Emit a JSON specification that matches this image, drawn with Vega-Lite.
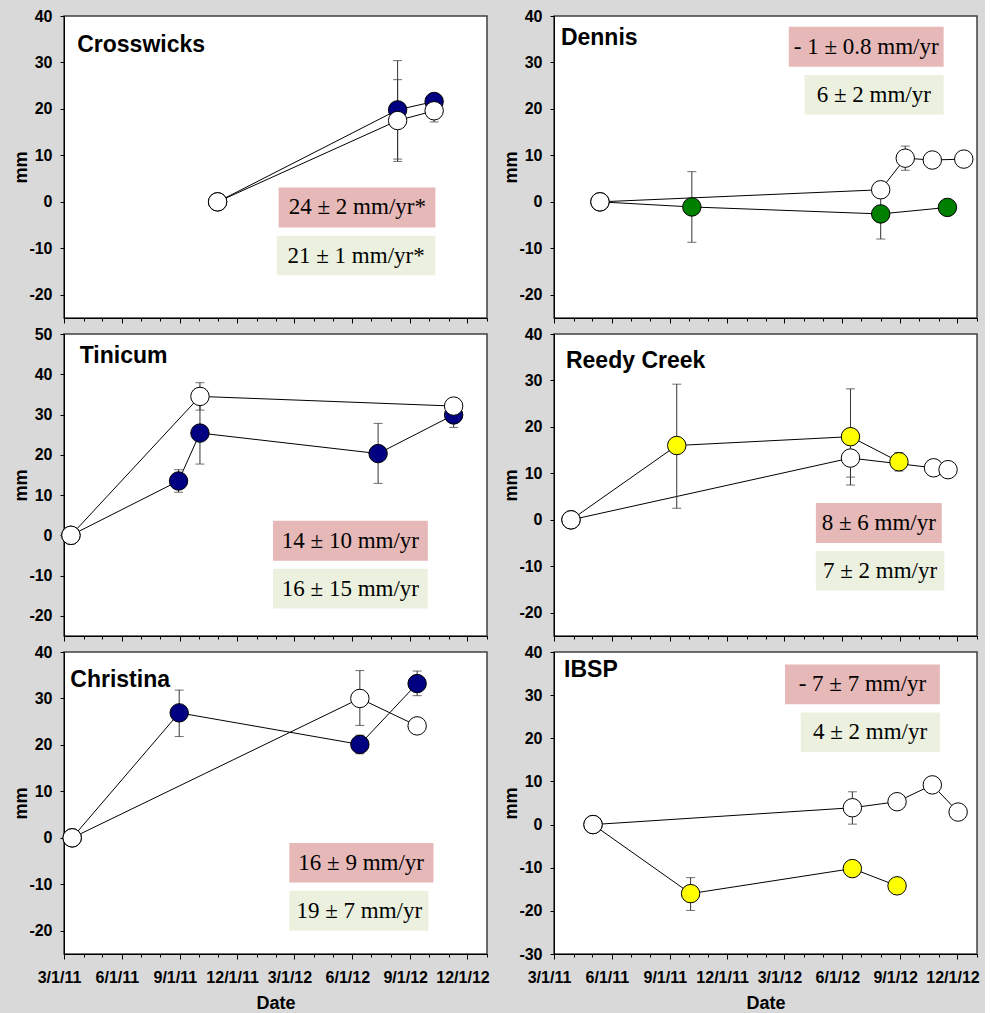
{
"$schema": "https://vega.github.io/schema/vega-lite/v6.json",
"background": "#d9d9d9",
"padding": {"left": 12, "top": 7, "right": 5, "bottom": 5},
"datasets": {
"obs": [
{"site":"Crosswicks","series":"open","date":"2011-10-31","mm":0},
{"site":"Crosswicks","series":"open","date":"2012-08-12","mm":17.5,"lo":8.7,"hi":26.3},
{"site":"Crosswicks","series":"open","date":"2012-10-09","mm":19.6,"lo":17.2,"hi":22.0},
{"site":"Crosswicks","series":"filled","date":"2011-10-31","mm":0},
{"site":"Crosswicks","series":"filled","date":"2012-08-12","mm":19.8,"lo":9.2,"hi":30.4},
{"site":"Crosswicks","series":"filled","date":"2012-10-09","mm":21.6},
{"site":"Dennis","series":"open","date":"2011-05-13","mm":0},
{"site":"Dennis","series":"open","date":"2012-08-01","mm":2.6},
{"site":"Dennis","series":"open","date":"2012-09-09","mm":9.4,"lo":6.8,"hi":12.0},
{"site":"Dennis","series":"open","date":"2012-10-22","mm":9.0},
{"site":"Dennis","series":"open","date":"2012-12-11","mm":9.2},
{"site":"Dennis","series":"filled","date":"2011-05-13","mm":0},
{"site":"Dennis","series":"filled","date":"2011-10-06","mm":-1.1,"lo":-8.7,"hi":6.5},
{"site":"Dennis","series":"filled","date":"2012-08-01","mm":-2.6,"lo":-8.0,"hi":2.8},
{"site":"Dennis","series":"filled","date":"2012-11-15","mm":-1.2},
{"site":"Tinicum","series":"open","date":"2011-03-12","mm":0},
{"site":"Tinicum","series":"open","date":"2011-10-03","mm":34.5,"lo":31.1,"hi":37.9},
{"site":"Tinicum","series":"open","date":"2012-11-09","mm":32.1},
{"site":"Tinicum","series":"filled","date":"2011-03-12","mm":0},
{"site":"Tinicum","series":"filled","date":"2011-08-30","mm":13.5,"lo":10.7,"hi":16.3},
{"site":"Tinicum","series":"filled","date":"2011-10-03","mm":25.4,"lo":17.7,"hi":33.1},
{"site":"Tinicum","series":"filled","date":"2012-07-12","mm":20.3,"lo":12.9,"hi":27.8},
{"site":"Tinicum","series":"filled","date":"2012-11-09","mm":29.9,"lo":26.8,"hi":33.0},
{"site":"Reedy Creek","series":"open","date":"2011-03-28","mm":0},
{"site":"Reedy Creek","series":"open","date":"2012-06-14","mm":13.3,"lo":9.2,"hi":17.3},
{"site":"Reedy Creek","series":"open","date":"2012-10-24","mm":11.2},
{"site":"Reedy Creek","series":"open","date":"2012-11-16","mm":10.8},
{"site":"Reedy Creek","series":"filled","date":"2011-03-28","mm":0},
{"site":"Reedy Creek","series":"filled","date":"2011-09-12","mm":16.0,"lo":2.5,"hi":29.2},
{"site":"Reedy Creek","series":"filled","date":"2012-06-14","mm":17.9,"lo":7.5,"hi":28.2},
{"site":"Reedy Creek","series":"filled","date":"2012-08-30","mm":12.5,"lo":10.5,"hi":14.5},
{"site":"Christina","series":"open","date":"2011-03-14","mm":0},
{"site":"Christina","series":"open","date":"2012-06-13","mm":30.0,"lo":24.2,"hi":36.0},
{"site":"Christina","series":"open","date":"2012-09-12","mm":24.1},
{"site":"Christina","series":"filled","date":"2011-03-14","mm":0},
{"site":"Christina","series":"filled","date":"2011-08-31","mm":26.9,"lo":21.8,"hi":31.8},
{"site":"Christina","series":"filled","date":"2012-06-13","mm":20.1,"lo":18.1,"hi":22.1},
{"site":"Christina","series":"filled","date":"2012-09-12","mm":33.2,"lo":30.6,"hi":35.9},
{"site":"IBSP","series":"open","date":"2011-05-02","mm":0},
{"site":"IBSP","series":"open","date":"2012-06-17","mm":3.9,"lo":0.1,"hi":7.6},
{"site":"IBSP","series":"open","date":"2012-08-27","mm":5.3},
{"site":"IBSP","series":"open","date":"2012-10-22","mm":9.2},
{"site":"IBSP","series":"open","date":"2012-12-02","mm":2.9},
{"site":"IBSP","series":"filled","date":"2011-05-02","mm":0},
{"site":"IBSP","series":"filled","date":"2011-10-04","mm":-16.0,"lo":-19.9,"hi":-12.3},
{"site":"IBSP","series":"filled","date":"2012-06-17","mm":-10.2},
{"site":"IBSP","series":"filled","date":"2012-08-27","mm":-14.2}
],
"rates": [
{"site":"Crosswicks","kind":"pink","label":"24 ± 2 mm/yr*"},
{"site":"Crosswicks","kind":"green","label":"21 ± 1 mm/yr*"},
{"site":"Dennis","kind":"pink","label":"- 1 ± 0.8 mm/yr"},
{"site":"Dennis","kind":"green","label":"6 ± 2 mm/yr"},
{"site":"Tinicum","kind":"pink","label":"14 ± 10 mm/yr"},
{"site":"Tinicum","kind":"green","label":"16 ± 15 mm/yr"},
{"site":"Reedy Creek","kind":"pink","label":"8 ± 6 mm/yr"},
{"site":"Reedy Creek","kind":"green","label":"7 ± 2 mm/yr"},
{"site":"Christina","kind":"pink","label":"16 ± 9 mm/yr"},
{"site":"Christina","kind":"green","label":"19 ± 7 mm/yr"},
{"site":"IBSP","kind":"pink","label":"- 7 ± 7 mm/yr"},
{"site":"IBSP","kind":"green","label":"4 ± 2 mm/yr"}
]
},
"columns": 2,
"spacing": {"row": 16, "column": 67},
"bounds": "flush",
"resolve": {"scale": {"x": "independent", "y": "independent"}, "axis": {"x": "independent", "y": "independent"}},
"concat": [
{
"width": 423, "height": 302,
"layer": [
{"data": {"name": "rates"}, "transform": [{"filter": "datum.site == 'Crosswicks'"}],
"layer": [
{"transform": [{"filter": "datum.kind == 'pink'"}], "mark": {"type": "rect", "fill": "#e6b8b7"},
"encoding": {"x": {"datum": {"year":2012,"month":2,"date":5,"utc":true}, "type": "temporal"}, "x2": {"datum": {"year":2012,"month":10,"date":11,"utc":true}}, "y": {"datum": 3.1, "type": "quantitative"}, "y2": {"datum": -5.5}}},
{"transform": [{"filter": "datum.kind == 'pink'"}], "mark": {"type": "text", "font": "Liberation Serif", "fontSize": 23, "align": "center", "baseline": "middle", "color": "black"},
"encoding": {"x": {"datum": {"year":2012,"month":6,"date":9,"utc":true}, "type": "temporal"}, "y": {"datum": -1.2, "type": "quantitative"}, "text": {"field": "label"}}},
{"transform": [{"filter": "datum.kind == 'green'"}], "mark": {"type": "rect", "fill": "#ebf1de"},
"encoding": {"x": {"datum": {"year":2012,"month":2,"date":2,"utc":true}, "type": "temporal"}, "x2": {"datum": {"year":2012,"month":10,"date":11,"utc":true}}, "y": {"datum": -7.3, "type": "quantitative"}, "y2": {"datum": -15.8}}},
{"transform": [{"filter": "datum.kind == 'green'"}], "mark": {"type": "text", "font": "Liberation Serif", "fontSize": 23, "align": "center", "baseline": "middle", "color": "black"},
"encoding": {"x": {"datum": {"year":2012,"month":6,"date":7,"utc":true}, "type": "temporal"}, "y": {"datum": -11.55, "type": "quantitative"}, "text": {"field": "label"}}},
{"transform": [{"filter": "datum.kind == 'pink'"}], "mark": {"type": "text", "font": "Liberation Sans", "fontWeight": "bold", "fontSize": 23, "align": "left", "baseline": "alphabetic", "color": "black"},
"encoding": {"x": {"datum": {"year":2011,"month":3,"date":22,"utc":true}, "type": "temporal"}, "y": {"datum": 32.2, "type": "quantitative"}, "text": {"field": "site"}}}
]},
{"data": {"name": "obs"}, "transform": [{"filter": "datum.site == 'Crosswicks'"}],
"layer": [
{"mark": {"type": "line", "color": "black", "strokeWidth": 1},
"encoding": {
"x": {"field": "date", "type": "temporal", "scale": {"type": "utc", "nice": false, "domain": [{"year":2011,"month":3,"date":1,"utc":true},{"year":2013,"month":1,"date":1,"utc":true}]},
"axis": {"title": null, "labels": false, "tickCount": 60, "tickSize": {"condition": {"test": "utcmonth(datum.value) % 3 == 2", "value": 5}, "value": 3},
"values": [{"year":2011,"month":3,"date":1,"utc":true},{"year":2011,"month":4,"date":1,"utc":true},{"year":2011,"month":5,"date":1,"utc":true},{"year":2011,"month":6,"date":1,"utc":true},{"year":2011,"month":7,"date":1,"utc":true},{"year":2011,"month":8,"date":1,"utc":true},{"year":2011,"month":9,"date":1,"utc":true},{"year":2011,"month":10,"date":1,"utc":true},{"year":2011,"month":11,"date":1,"utc":true},{"year":2011,"month":12,"date":1,"utc":true},{"year":2012,"month":1,"date":1,"utc":true},{"year":2012,"month":2,"date":1,"utc":true},{"year":2012,"month":3,"date":1,"utc":true},{"year":2012,"month":4,"date":1,"utc":true},{"year":2012,"month":5,"date":1,"utc":true},{"year":2012,"month":6,"date":1,"utc":true},{"year":2012,"month":7,"date":1,"utc":true},{"year":2012,"month":8,"date":1,"utc":true},{"year":2012,"month":9,"date":1,"utc":true},{"year":2012,"month":10,"date":1,"utc":true},{"year":2012,"month":11,"date":1,"utc":true},{"year":2012,"month":12,"date":1,"utc":true},{"year":2013,"month":1,"date":1,"utc":true}]}},
"y": {"field": "mm", "type": "quantitative", "scale": {"domain": [-25, 40], "nice": false, "zero": false}, "axis": {"title": "mm", "tickCount": 30, "values": [-20,-10,0,10,20,30,40], "labelExpr": "'' + datum.value"}},
"detail": {"field": "series"}}},
{"transform": [{"filter": "isValid(datum.lo)"}], "mark": {"type": "errorbar", "ticks": {"size": 9}, "color": "#333"},
"encoding": {"x": {"field": "date", "type": "temporal"}, "y": {"field": "lo", "type": "quantitative", "title": "mm"}, "y2": {"field": "hi"}}},
{"transform": [{"filter": "datum.series == 'filled'"}], "mark": {"type": "circle", "size": 340, "fill": "#000080", "stroke": "black", "strokeWidth": 1, "opacity": 1},
"encoding": {"x": {"field": "date", "type": "temporal"}, "y": {"field": "mm", "type": "quantitative"}}},
{"transform": [{"filter": "datum.series == 'open'"}], "mark": {"type": "circle", "size": 340, "fill": "white", "stroke": "black", "strokeWidth": 1, "opacity": 1},
"encoding": {"x": {"field": "date", "type": "temporal"}, "y": {"field": "mm", "type": "quantitative"}}}
]}
]
},
{
"width": 423, "height": 302,
"layer": [
{"data": {"name": "rates"}, "transform": [{"filter": "datum.site == 'Dennis'"}],
"layer": [
{"transform": [{"filter": "datum.kind == 'pink'"}], "mark": {"type": "rect", "fill": "#e6b8b7"},
"encoding": {"x": {"datum": {"year":2012,"month":3,"date":8,"utc":true}, "type": "temporal"}, "x2": {"datum": {"year":2012,"month":11,"date":9,"utc":true}}, "y": {"datum": 37.7, "type": "quantitative"}, "y2": {"datum": 29.1}}},
{"transform": [{"filter": "datum.kind == 'pink'"}], "mark": {"type": "text", "font": "Liberation Serif", "fontSize": 23, "align": "center", "baseline": "middle", "color": "black"},
"encoding": {"x": {"datum": {"year":2012,"month":7,"date":9,"utc":true}, "type": "temporal"}, "y": {"datum": 33.4, "type": "quantitative"}, "text": {"field": "label"}}},
{"transform": [{"filter": "datum.kind == 'green'"}], "mark": {"type": "rect", "fill": "#ebf1de"},
"encoding": {"x": {"datum": {"year":2012,"month":4,"date":2,"utc":true}, "type": "temporal"}, "x2": {"datum": {"year":2012,"month":11,"date":9,"utc":true}}, "y": {"datum": 27.3, "type": "quantitative"}, "y2": {"datum": 18.8}}},
{"transform": [{"filter": "datum.kind == 'green'"}], "mark": {"type": "text", "font": "Liberation Serif", "fontSize": 23, "align": "center", "baseline": "middle", "color": "black"},
"encoding": {"x": {"datum": {"year":2012,"month":7,"date":21,"utc":true}, "type": "temporal"}, "y": {"datum": 23.05, "type": "quantitative"}, "text": {"field": "label"}}},
{"transform": [{"filter": "datum.kind == 'pink'"}], "mark": {"type": "text", "font": "Liberation Sans", "fontWeight": "bold", "fontSize": 23, "align": "left", "baseline": "alphabetic", "color": "black"},
"encoding": {"x": {"datum": {"year":2011,"month":3,"date":12,"utc":true}, "type": "temporal"}, "y": {"datum": 33.8, "type": "quantitative"}, "text": {"field": "site"}}}
]},
{"data": {"name": "obs"}, "transform": [{"filter": "datum.site == 'Dennis'"}],
"layer": [
{"mark": {"type": "line", "color": "black", "strokeWidth": 1},
"encoding": {
"x": {"field": "date", "type": "temporal", "scale": {"type": "utc", "nice": false, "domain": [{"year":2011,"month":3,"date":1,"utc":true},{"year":2013,"month":1,"date":1,"utc":true}]},
"axis": {"title": null, "labels": false, "tickCount": 60, "tickSize": {"condition": {"test": "utcmonth(datum.value) % 3 == 2", "value": 5}, "value": 3},
"values": [{"year":2011,"month":3,"date":1,"utc":true},{"year":2011,"month":4,"date":1,"utc":true},{"year":2011,"month":5,"date":1,"utc":true},{"year":2011,"month":6,"date":1,"utc":true},{"year":2011,"month":7,"date":1,"utc":true},{"year":2011,"month":8,"date":1,"utc":true},{"year":2011,"month":9,"date":1,"utc":true},{"year":2011,"month":10,"date":1,"utc":true},{"year":2011,"month":11,"date":1,"utc":true},{"year":2011,"month":12,"date":1,"utc":true},{"year":2012,"month":1,"date":1,"utc":true},{"year":2012,"month":2,"date":1,"utc":true},{"year":2012,"month":3,"date":1,"utc":true},{"year":2012,"month":4,"date":1,"utc":true},{"year":2012,"month":5,"date":1,"utc":true},{"year":2012,"month":6,"date":1,"utc":true},{"year":2012,"month":7,"date":1,"utc":true},{"year":2012,"month":8,"date":1,"utc":true},{"year":2012,"month":9,"date":1,"utc":true},{"year":2012,"month":10,"date":1,"utc":true},{"year":2012,"month":11,"date":1,"utc":true},{"year":2012,"month":12,"date":1,"utc":true},{"year":2013,"month":1,"date":1,"utc":true}]}},
"y": {"field": "mm", "type": "quantitative", "scale": {"domain": [-25, 40], "nice": false, "zero": false}, "axis": {"title": "mm", "tickCount": 30, "values": [-20,-10,0,10,20,30,40], "labelExpr": "'' + datum.value"}},
"detail": {"field": "series"}}},
{"transform": [{"filter": "isValid(datum.lo)"}], "mark": {"type": "errorbar", "ticks": {"size": 9}, "color": "#333"},
"encoding": {"x": {"field": "date", "type": "temporal"}, "y": {"field": "lo", "type": "quantitative", "title": "mm"}, "y2": {"field": "hi"}}},
{"transform": [{"filter": "datum.series == 'filled'"}], "mark": {"type": "circle", "size": 340, "fill": "#008000", "stroke": "black", "strokeWidth": 1, "opacity": 1},
"encoding": {"x": {"field": "date", "type": "temporal"}, "y": {"field": "mm", "type": "quantitative"}}},
{"transform": [{"filter": "datum.series == 'open'"}], "mark": {"type": "circle", "size": 340, "fill": "white", "stroke": "black", "strokeWidth": 1, "opacity": 1},
"encoding": {"x": {"field": "date", "type": "temporal"}, "y": {"field": "mm", "type": "quantitative"}}}
]}
]
},
{
"width": 423, "height": 302,
"layer": [
{"data": {"name": "rates"}, "transform": [{"filter": "datum.site == 'Tinicum'"}],
"layer": [
{"transform": [{"filter": "datum.kind == 'pink'"}], "mark": {"type": "rect", "fill": "#e6b8b7"},
"encoding": {"x": {"datum": {"year":2012,"month":1,"date":27,"utc":true}, "type": "temporal"}, "x2": {"datum": {"year":2012,"month":9,"date":29,"utc":true}}, "y": {"datum": 3.6, "type": "quantitative"}, "y2": {"datum": -6.3}}},
{"transform": [{"filter": "datum.kind == 'pink'"}], "mark": {"type": "text", "font": "Liberation Serif", "fontSize": 23, "align": "center", "baseline": "middle", "color": "black"},
"encoding": {"x": {"datum": {"year":2012,"month":5,"date":29,"utc":true}, "type": "temporal"}, "y": {"datum": -1.35, "type": "quantitative"}, "text": {"field": "label"}}},
{"transform": [{"filter": "datum.kind == 'green'"}], "mark": {"type": "rect", "fill": "#ebf1de"},
"encoding": {"x": {"datum": {"year":2012,"month":1,"date":27,"utc":true}, "type": "temporal"}, "x2": {"datum": {"year":2012,"month":9,"date":29,"utc":true}}, "y": {"datum": -8.3, "type": "quantitative"}, "y2": {"datum": -18.2}}},
{"transform": [{"filter": "datum.kind == 'green'"}], "mark": {"type": "text", "font": "Liberation Serif", "fontSize": 23, "align": "center", "baseline": "middle", "color": "black"},
"encoding": {"x": {"datum": {"year":2012,"month":5,"date":29,"utc":true}, "type": "temporal"}, "y": {"datum": -13.25, "type": "quantitative"}, "text": {"field": "label"}}},
{"transform": [{"filter": "datum.kind == 'pink'"}], "mark": {"type": "text", "font": "Liberation Sans", "fontWeight": "bold", "fontSize": 23, "align": "left", "baseline": "alphabetic", "color": "black"},
"encoding": {"x": {"datum": {"year":2011,"month":3,"date":26,"utc":true}, "type": "temporal"}, "y": {"datum": 42.7, "type": "quantitative"}, "text": {"field": "site"}}}
]},
{"data": {"name": "obs"}, "transform": [{"filter": "datum.site == 'Tinicum'"}],
"layer": [
{"mark": {"type": "line", "color": "black", "strokeWidth": 1},
"encoding": {
"x": {"field": "date", "type": "temporal", "scale": {"type": "utc", "nice": false, "domain": [{"year":2011,"month":3,"date":1,"utc":true},{"year":2013,"month":1,"date":1,"utc":true}]},
"axis": {"title": null, "labels": false, "tickCount": 60, "tickSize": {"condition": {"test": "utcmonth(datum.value) % 3 == 2", "value": 5}, "value": 3},
"values": [{"year":2011,"month":3,"date":1,"utc":true},{"year":2011,"month":4,"date":1,"utc":true},{"year":2011,"month":5,"date":1,"utc":true},{"year":2011,"month":6,"date":1,"utc":true},{"year":2011,"month":7,"date":1,"utc":true},{"year":2011,"month":8,"date":1,"utc":true},{"year":2011,"month":9,"date":1,"utc":true},{"year":2011,"month":10,"date":1,"utc":true},{"year":2011,"month":11,"date":1,"utc":true},{"year":2011,"month":12,"date":1,"utc":true},{"year":2012,"month":1,"date":1,"utc":true},{"year":2012,"month":2,"date":1,"utc":true},{"year":2012,"month":3,"date":1,"utc":true},{"year":2012,"month":4,"date":1,"utc":true},{"year":2012,"month":5,"date":1,"utc":true},{"year":2012,"month":6,"date":1,"utc":true},{"year":2012,"month":7,"date":1,"utc":true},{"year":2012,"month":8,"date":1,"utc":true},{"year":2012,"month":9,"date":1,"utc":true},{"year":2012,"month":10,"date":1,"utc":true},{"year":2012,"month":11,"date":1,"utc":true},{"year":2012,"month":12,"date":1,"utc":true},{"year":2013,"month":1,"date":1,"utc":true}]}},
"y": {"field": "mm", "type": "quantitative", "scale": {"domain": [-25, 50], "nice": false, "zero": false}, "axis": {"title": "mm", "tickCount": 30, "values": [-20,-10,0,10,20,30,40,50], "labelExpr": "'' + datum.value"}},
"detail": {"field": "series"}}},
{"transform": [{"filter": "isValid(datum.lo)"}], "mark": {"type": "errorbar", "ticks": {"size": 9}, "color": "#333"},
"encoding": {"x": {"field": "date", "type": "temporal"}, "y": {"field": "lo", "type": "quantitative", "title": "mm"}, "y2": {"field": "hi"}}},
{"transform": [{"filter": "datum.series == 'filled'"}], "mark": {"type": "circle", "size": 340, "fill": "#000080", "stroke": "black", "strokeWidth": 1, "opacity": 1},
"encoding": {"x": {"field": "date", "type": "temporal"}, "y": {"field": "mm", "type": "quantitative"}}},
{"transform": [{"filter": "datum.series == 'open'"}], "mark": {"type": "circle", "size": 340, "fill": "white", "stroke": "black", "strokeWidth": 1, "opacity": 1},
"encoding": {"x": {"field": "date", "type": "temporal"}, "y": {"field": "mm", "type": "quantitative"}}}
]}
]
},
{
"width": 423, "height": 302,
"layer": [
{"data": {"name": "rates"}, "transform": [{"filter": "datum.site == 'Reedy Creek'"}],
"layer": [
{"transform": [{"filter": "datum.kind == 'pink'"}], "mark": {"type": "rect", "fill": "#e6b8b7"},
"encoding": {"x": {"datum": {"year":2012,"month":4,"date":20,"utc":true}, "type": "temporal"}, "x2": {"datum": {"year":2012,"month":11,"date":6,"utc":true}}, "y": {"datum": 3.6, "type": "quantitative"}, "y2": {"datum": -5.0}}},
{"transform": [{"filter": "datum.kind == 'pink'"}], "mark": {"type": "text", "font": "Liberation Serif", "fontSize": 23, "align": "center", "baseline": "middle", "color": "black"},
"encoding": {"x": {"datum": {"year":2012,"month":7,"date":29,"utc":true}, "type": "temporal"}, "y": {"datum": -0.7, "type": "quantitative"}, "text": {"field": "label"}}},
{"transform": [{"filter": "datum.kind == 'green'"}], "mark": {"type": "rect", "fill": "#ebf1de"},
"encoding": {"x": {"datum": {"year":2012,"month":4,"date":20,"utc":true}, "type": "temporal"}, "x2": {"datum": {"year":2012,"month":11,"date":10,"utc":true}}, "y": {"datum": -6.7, "type": "quantitative"}, "y2": {"datum": -15.2}}},
{"transform": [{"filter": "datum.kind == 'green'"}], "mark": {"type": "text", "font": "Liberation Serif", "fontSize": 23, "align": "center", "baseline": "middle", "color": "black"},
"encoding": {"x": {"datum": {"year":2012,"month":7,"date":31,"utc":true}, "type": "temporal"}, "y": {"datum": -10.95, "type": "quantitative"}, "text": {"field": "label"}}},
{"transform": [{"filter": "datum.kind == 'pink'"}], "mark": {"type": "text", "font": "Liberation Sans", "fontWeight": "bold", "fontSize": 23, "align": "left", "baseline": "alphabetic", "color": "black"},
"encoding": {"x": {"datum": {"year":2011,"month":3,"date":20,"utc":true}, "type": "temporal"}, "y": {"datum": 32.6, "type": "quantitative"}, "text": {"field": "site"}}}
]},
{"data": {"name": "obs"}, "transform": [{"filter": "datum.site == 'Reedy Creek'"}],
"layer": [
{"mark": {"type": "line", "color": "black", "strokeWidth": 1},
"encoding": {
"x": {"field": "date", "type": "temporal", "scale": {"type": "utc", "nice": false, "domain": [{"year":2011,"month":3,"date":1,"utc":true},{"year":2013,"month":1,"date":1,"utc":true}]},
"axis": {"title": null, "labels": false, "tickCount": 60, "tickSize": {"condition": {"test": "utcmonth(datum.value) % 3 == 2", "value": 5}, "value": 3},
"values": [{"year":2011,"month":3,"date":1,"utc":true},{"year":2011,"month":4,"date":1,"utc":true},{"year":2011,"month":5,"date":1,"utc":true},{"year":2011,"month":6,"date":1,"utc":true},{"year":2011,"month":7,"date":1,"utc":true},{"year":2011,"month":8,"date":1,"utc":true},{"year":2011,"month":9,"date":1,"utc":true},{"year":2011,"month":10,"date":1,"utc":true},{"year":2011,"month":11,"date":1,"utc":true},{"year":2011,"month":12,"date":1,"utc":true},{"year":2012,"month":1,"date":1,"utc":true},{"year":2012,"month":2,"date":1,"utc":true},{"year":2012,"month":3,"date":1,"utc":true},{"year":2012,"month":4,"date":1,"utc":true},{"year":2012,"month":5,"date":1,"utc":true},{"year":2012,"month":6,"date":1,"utc":true},{"year":2012,"month":7,"date":1,"utc":true},{"year":2012,"month":8,"date":1,"utc":true},{"year":2012,"month":9,"date":1,"utc":true},{"year":2012,"month":10,"date":1,"utc":true},{"year":2012,"month":11,"date":1,"utc":true},{"year":2012,"month":12,"date":1,"utc":true},{"year":2013,"month":1,"date":1,"utc":true}]}},
"y": {"field": "mm", "type": "quantitative", "scale": {"domain": [-25, 40], "nice": false, "zero": false}, "axis": {"title": "mm", "tickCount": 30, "values": [-20,-10,0,10,20,30,40], "labelExpr": "'' + datum.value"}},
"detail": {"field": "series"}}},
{"transform": [{"filter": "isValid(datum.lo)"}], "mark": {"type": "errorbar", "ticks": {"size": 9}, "color": "#333"},
"encoding": {"x": {"field": "date", "type": "temporal"}, "y": {"field": "lo", "type": "quantitative", "title": "mm"}, "y2": {"field": "hi"}}},
{"transform": [{"filter": "datum.series == 'filled'"}], "mark": {"type": "circle", "size": 340, "fill": "#ffff00", "stroke": "black", "strokeWidth": 1, "opacity": 1},
"encoding": {"x": {"field": "date", "type": "temporal"}, "y": {"field": "mm", "type": "quantitative"}}},
{"transform": [{"filter": "datum.series == 'open'"}], "mark": {"type": "circle", "size": 340, "fill": "white", "stroke": "black", "strokeWidth": 1, "opacity": 1},
"encoding": {"x": {"field": "date", "type": "temporal"}, "y": {"field": "mm", "type": "quantitative"}}}
]}
]
},
{
"width": 423, "height": 302,
"layer": [
{"data": {"name": "rates"}, "transform": [{"filter": "datum.site == 'Christina'"}],
"layer": [
{"transform": [{"filter": "datum.kind == 'pink'"}], "mark": {"type": "rect", "fill": "#e6b8b7"},
"encoding": {"x": {"datum": {"year":2012,"month":2,"date":22,"utc":true}, "type": "temporal"}, "x2": {"datum": {"year":2012,"month":10,"date":8,"utc":true}}, "y": {"datum": -1.1, "type": "quantitative"}, "y2": {"datum": -9.6}}},
{"transform": [{"filter": "datum.kind == 'pink'"}], "mark": {"type": "text", "font": "Liberation Serif", "fontSize": 23, "align": "center", "baseline": "middle", "color": "black"},
"encoding": {"x": {"datum": {"year":2012,"month":6,"date":15,"utc":true}, "type": "temporal"}, "y": {"datum": -5.35, "type": "quantitative"}, "text": {"field": "label"}}},
{"transform": [{"filter": "datum.kind == 'green'"}], "mark": {"type": "rect", "fill": "#ebf1de"},
"encoding": {"x": {"datum": {"year":2012,"month":2,"date":22,"utc":true}, "type": "temporal"}, "x2": {"datum": {"year":2012,"month":9,"date":30,"utc":true}}, "y": {"datum": -11.4, "type": "quantitative"}, "y2": {"datum": -20.0}}},
{"transform": [{"filter": "datum.kind == 'green'"}], "mark": {"type": "text", "font": "Liberation Serif", "fontSize": 23, "align": "center", "baseline": "middle", "color": "black"},
"encoding": {"x": {"datum": {"year":2012,"month":6,"date":12,"utc":true}, "type": "temporal"}, "y": {"datum": -15.7, "type": "quantitative"}, "text": {"field": "label"}}},
{"transform": [{"filter": "datum.kind == 'pink'"}], "mark": {"type": "text", "font": "Liberation Sans", "fontWeight": "bold", "fontSize": 23, "align": "left", "baseline": "alphabetic", "color": "black"},
"encoding": {"x": {"datum": {"year":2011,"month":3,"date":11,"utc":true}, "type": "temporal"}, "y": {"datum": 32.5, "type": "quantitative"}, "text": {"field": "site"}}}
]},
{"data": {"name": "obs"}, "transform": [{"filter": "datum.site == 'Christina'"}],
"layer": [
{"mark": {"type": "line", "color": "black", "strokeWidth": 1},
"encoding": {
"x": {"field": "date", "type": "temporal", "scale": {"type": "utc", "nice": false, "domain": [{"year":2011,"month":3,"date":1,"utc":true},{"year":2013,"month":1,"date":1,"utc":true}]},
"axis": {"title": "Date", "tickCount": 60, "labelExpr": "utcmonth(datum.value) % 3 == 2 ? utcFormat(datum.value, '%-m/%-d/%y') : ''", "labelOverlap": false, "labelFlush": false, "labelOffset": -5, "tickSize": {"condition": {"test": "utcmonth(datum.value) % 3 == 2", "value": 5}, "value": 3},
"values": [{"year":2011,"month":3,"date":1,"utc":true},{"year":2011,"month":4,"date":1,"utc":true},{"year":2011,"month":5,"date":1,"utc":true},{"year":2011,"month":6,"date":1,"utc":true},{"year":2011,"month":7,"date":1,"utc":true},{"year":2011,"month":8,"date":1,"utc":true},{"year":2011,"month":9,"date":1,"utc":true},{"year":2011,"month":10,"date":1,"utc":true},{"year":2011,"month":11,"date":1,"utc":true},{"year":2011,"month":12,"date":1,"utc":true},{"year":2012,"month":1,"date":1,"utc":true},{"year":2012,"month":2,"date":1,"utc":true},{"year":2012,"month":3,"date":1,"utc":true},{"year":2012,"month":4,"date":1,"utc":true},{"year":2012,"month":5,"date":1,"utc":true},{"year":2012,"month":6,"date":1,"utc":true},{"year":2012,"month":7,"date":1,"utc":true},{"year":2012,"month":8,"date":1,"utc":true},{"year":2012,"month":9,"date":1,"utc":true},{"year":2012,"month":10,"date":1,"utc":true},{"year":2012,"month":11,"date":1,"utc":true},{"year":2012,"month":12,"date":1,"utc":true},{"year":2013,"month":1,"date":1,"utc":true}]}},
"y": {"field": "mm", "type": "quantitative", "scale": {"domain": [-25, 40], "nice": false, "zero": false}, "axis": {"title": "mm", "tickCount": 30, "values": [-20,-10,0,10,20,30,40], "labelExpr": "'' + datum.value"}},
"detail": {"field": "series"}}},
{"transform": [{"filter": "isValid(datum.lo)"}], "mark": {"type": "errorbar", "ticks": {"size": 9}, "color": "#333"},
"encoding": {"x": {"field": "date", "type": "temporal"}, "y": {"field": "lo", "type": "quantitative", "title": "mm"}, "y2": {"field": "hi"}}},
{"transform": [{"filter": "datum.series == 'filled'"}], "mark": {"type": "circle", "size": 340, "fill": "#000080", "stroke": "black", "strokeWidth": 1, "opacity": 1},
"encoding": {"x": {"field": "date", "type": "temporal"}, "y": {"field": "mm", "type": "quantitative"}}},
{"transform": [{"filter": "datum.series == 'open'"}], "mark": {"type": "circle", "size": 340, "fill": "white", "stroke": "black", "strokeWidth": 1, "opacity": 1},
"encoding": {"x": {"field": "date", "type": "temporal"}, "y": {"field": "mm", "type": "quantitative"}}}
]}
]
},
{
"width": 423, "height": 302,
"layer": [
{"data": {"name": "rates"}, "transform": [{"filter": "datum.site == 'IBSP'"}],
"layer": [
{"transform": [{"filter": "datum.kind == 'pink'"}], "mark": {"type": "rect", "fill": "#e6b8b7"},
"encoding": {"x": {"datum": {"year":2012,"month":3,"date":2,"utc":true}, "type": "temporal"}, "x2": {"datum": {"year":2012,"month":11,"date":3,"utc":true}}, "y": {"datum": 37.1, "type": "quantitative"}, "y2": {"datum": 27.9}}},
{"transform": [{"filter": "datum.kind == 'pink'"}], "mark": {"type": "text", "font": "Liberation Serif", "fontSize": 23, "align": "center", "baseline": "middle", "color": "black"},
"encoding": {"x": {"datum": {"year":2012,"month":7,"date":3,"utc":true}, "type": "temporal"}, "y": {"datum": 32.5, "type": "quantitative"}, "text": {"field": "label"}}},
{"transform": [{"filter": "datum.kind == 'green'"}], "mark": {"type": "rect", "fill": "#ebf1de"},
"encoding": {"x": {"datum": {"year":2012,"month":3,"date":27,"utc":true}, "type": "temporal"}, "x2": {"datum": {"year":2012,"month":11,"date":3,"utc":true}}, "y": {"datum": 26.0, "type": "quantitative"}, "y2": {"datum": 16.8}}},
{"transform": [{"filter": "datum.kind == 'green'"}], "mark": {"type": "text", "font": "Liberation Serif", "fontSize": 23, "align": "center", "baseline": "middle", "color": "black"},
"encoding": {"x": {"datum": {"year":2012,"month":7,"date":15,"utc":true}, "type": "temporal"}, "y": {"datum": 21.4, "type": "quantitative"}, "text": {"field": "label"}}},
{"transform": [{"filter": "datum.kind == 'pink'"}], "mark": {"type": "text", "font": "Liberation Sans", "fontWeight": "bold", "fontSize": 23, "align": "left", "baseline": "alphabetic", "color": "black"},
"encoding": {"x": {"datum": {"year":2011,"month":3,"date":17,"utc":true}, "type": "temporal"}, "y": {"datum": 34.1, "type": "quantitative"}, "text": {"field": "site"}}}
]},
{"data": {"name": "obs"}, "transform": [{"filter": "datum.site == 'IBSP'"}],
"layer": [
{"mark": {"type": "line", "color": "black", "strokeWidth": 1},
"encoding": {
"x": {"field": "date", "type": "temporal", "scale": {"type": "utc", "nice": false, "domain": [{"year":2011,"month":3,"date":1,"utc":true},{"year":2013,"month":1,"date":1,"utc":true}]},
"axis": {"title": "Date", "tickCount": 60, "labelExpr": "utcmonth(datum.value) % 3 == 2 ? utcFormat(datum.value, '%-m/%-d/%y') : ''", "labelOverlap": false, "labelFlush": false, "labelOffset": -5, "tickSize": {"condition": {"test": "utcmonth(datum.value) % 3 == 2", "value": 5}, "value": 3},
"values": [{"year":2011,"month":3,"date":1,"utc":true},{"year":2011,"month":4,"date":1,"utc":true},{"year":2011,"month":5,"date":1,"utc":true},{"year":2011,"month":6,"date":1,"utc":true},{"year":2011,"month":7,"date":1,"utc":true},{"year":2011,"month":8,"date":1,"utc":true},{"year":2011,"month":9,"date":1,"utc":true},{"year":2011,"month":10,"date":1,"utc":true},{"year":2011,"month":11,"date":1,"utc":true},{"year":2011,"month":12,"date":1,"utc":true},{"year":2012,"month":1,"date":1,"utc":true},{"year":2012,"month":2,"date":1,"utc":true},{"year":2012,"month":3,"date":1,"utc":true},{"year":2012,"month":4,"date":1,"utc":true},{"year":2012,"month":5,"date":1,"utc":true},{"year":2012,"month":6,"date":1,"utc":true},{"year":2012,"month":7,"date":1,"utc":true},{"year":2012,"month":8,"date":1,"utc":true},{"year":2012,"month":9,"date":1,"utc":true},{"year":2012,"month":10,"date":1,"utc":true},{"year":2012,"month":11,"date":1,"utc":true},{"year":2012,"month":12,"date":1,"utc":true},{"year":2013,"month":1,"date":1,"utc":true}]}},
"y": {"field": "mm", "type": "quantitative", "scale": {"domain": [-30, 40], "nice": false, "zero": false}, "axis": {"title": "mm", "tickCount": 30, "values": [-30,-20,-10,0,10,20,30,40], "labelExpr": "'' + datum.value"}},
"detail": {"field": "series"}}},
{"transform": [{"filter": "isValid(datum.lo)"}], "mark": {"type": "errorbar", "ticks": {"size": 9}, "color": "#333"},
"encoding": {"x": {"field": "date", "type": "temporal"}, "y": {"field": "lo", "type": "quantitative", "title": "mm"}, "y2": {"field": "hi"}}},
{"transform": [{"filter": "datum.series == 'filled'"}], "mark": {"type": "circle", "size": 340, "fill": "#ffff00", "stroke": "black", "strokeWidth": 1, "opacity": 1},
"encoding": {"x": {"field": "date", "type": "temporal"}, "y": {"field": "mm", "type": "quantitative"}}},
{"transform": [{"filter": "datum.series == 'open'"}], "mark": {"type": "circle", "size": 340, "fill": "white", "stroke": "black", "strokeWidth": 1, "opacity": 1},
"encoding": {"x": {"field": "date", "type": "temporal"}, "y": {"field": "mm", "type": "quantitative"}}}
]}
]
}
],
"config": {
"view": {"fill": "white", "stroke": "#404040", "strokeWidth": 1.5},
"axis": {"grid": false, "domainColor": "black", "domainWidth": 1, "tickColor": "black", "tickWidth": 1, "labelFont": "Liberation Sans", "labelFontWeight": "bold", "labelFontSize": 16, "labelColor": "black", "titleFont": "Liberation Sans", "titleFontWeight": "bold", "titleColor": "black", "titleFontSize": 18},
"axisY": {"tickSize": 4, "labelPadding": 8, "titlePadding": 2, "titleBaseline": "alphabetic"},
"axisX": {"labelPadding": 10, "titlePadding": 9}
}
}
